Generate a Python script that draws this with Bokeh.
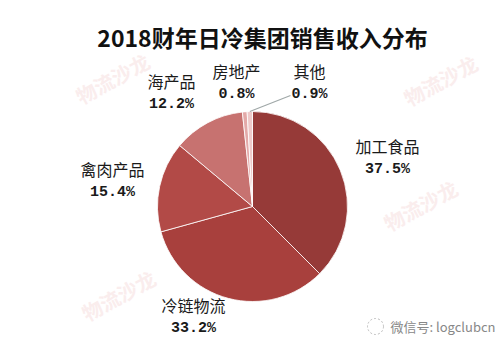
import numpy as np
from bokeh.plotting import figure
from bokeh.models import Range1d, ColumnDataSource
from bokeh.embed import file_html
from bokeh.resources import INLINE
from bokeh.core.properties import value

title = "2018财年日冷集团销售收入分布"
categories = ["加工食品", "冷链物流", "禽肉产品", "海产品", "房地产", "其他"]
shares = [37.5, 33.2, 15.4, 12.2, 0.8, 0.9]
colors = ["#963A38", "#A8403D", "#B24A47", "#C77270", "#E3A9A8", "#EEC9C9"]
wechat = "微信号: logclubcn"
watermark = "物流沙龙"

W, H = 500, 355
p = figure(width=W, height=H, x_range=Range1d(0, W), y_range=Range1d(0, H),
           output_backend="svg", toolbar_location=None, min_border=0)
p.axis.visible = False
p.grid.visible = False
p.outline_line_color = None
p.background_fill_color = "white"
p.border_fill_color = "white"

def Y(y):
    return H - y

# faint watermarks
wm_pos = [(112, 78, 0.5), (440, 80, 0.5), (420, 205, 0.5), (118, 295, 0.5)]
p.text(x=[a for a, b, c in wm_pos], y=[Y(b) for a, b, c in wm_pos], text=[watermark] * len(wm_pos),
       angle=[c for a, b, c in wm_pos], text_font=value("Noto Sans CJK SC"), text_font_size="20px",
       text_font_style="bold", text_color="#FAEDED", text_align="center", text_baseline="middle")

# pie
cx, cy, r = 252, Y(206), 95
frac = np.array(shares) / sum(shares)
cum = np.concatenate([[0], np.cumsum(frac)])
start = np.pi / 2 - 2 * np.pi * cum[:-1]
end = np.pi / 2 - 2 * np.pi * cum[1:]
mid = (start + end) / 2
src = ColumnDataSource(dict(start=start, end=end, color=colors))
p.wedge(x=cx, y=cy, radius=r, start_angle="start", end_angle="end", direction="clock",
        fill_color="color", line_color="white", line_width=0.8, source=src)

# title
p.text(x=[262], y=[Y(36)], text=[title], text_font=value("Noto Sans CJK SC"), text_font_size="23px",
       text_font_style="bold", text_color="#111111", text_align="center", text_baseline="middle")

# labels
label_pos = [(387, 145), (193, 304), (112, 168), (171, 80), (236, 70), (309, 70)]
lx = [a for a, b in label_pos]
p.text(x=lx, y=[Y(b) for a, b in label_pos], text=categories,
       text_font=value("Noto Sans CJK SC"), text_font_size="16px", text_color="#1A1A1A",
       text_align="center", text_baseline="middle")
p.text(x=lx, y=[Y(b + 24) for a, b in label_pos], text=[f"{v}%" for v in shares],
       text_font=value("Liberation Mono"), text_font_size="15px", text_font_style="bold",
       text_color="#1A1A1A", text_align="center", text_baseline="middle")

# leader line for the last small slice
ex = cx + r * np.cos(mid[-1])
ey = cy + r * np.sin(mid[-1])
p.line(x=[ex, 290], y=[ey, Y(95)], line_color="#A0A8A8", line_width=1.2)

# wechat tag
p.circle(x=[375], y=[Y(326)], radius=8, fill_color=None, line_color="#BBBBBB", line_width=1, line_dash="2 2")
p.text(x=[390], y=[Y(326)], text=[wechat], text_font=value("Noto Sans CJK SC"), text_font_size="13px",
       text_color="#888888", text_align="left", text_baseline="middle")

open("out.html", "w").write(file_html(p, INLINE))
